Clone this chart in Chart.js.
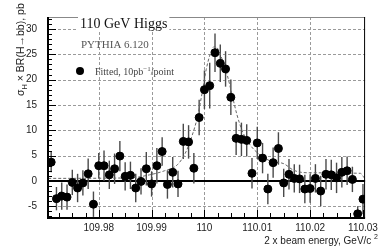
<!DOCTYPE html>
<html>
<head>
<meta charset="utf-8">
<script src="https://cdn.jsdelivr.net/npm/chart.js@4/dist/chart.umd.min.js"></script>
<style>
  html, body { margin: 0; padding: 0; background: #fff; }
</style>
</head>
<body>
<canvas id="higgsChart" width="382" height="252"></canvas>
<script>
// beam energy scan points (2 x beam energy, GeV/c^2)
const energies = [
  109.971, 109.972, 109.973, 109.974, 109.975, 109.976, 109.977, 109.978, 109.979, 109.980,
  109.981, 109.982, 109.983, 109.984, 109.985, 109.986, 109.987, 109.988, 109.989, 109.990,
  109.991, 109.992, 109.993, 109.994, 109.995, 109.996, 109.997, 109.998, 109.999, 110.000,
  110.001, 110.002, 110.003, 110.004, 110.005, 110.006, 110.007, 110.008, 110.009, 110.010,
  110.011, 110.012, 110.013, 110.014, 110.015, 110.016, 110.017, 110.018, 110.019, 110.020,
  110.021, 110.022, 110.023, 110.024, 110.025, 110.026, 110.027, 110.028, 110.029, 110.030
];
// fitted sigma x BR (pb)
const xsec = [
  3.7, -3.5, -3.0, -3.2, -0.3, -1.4, -0.4, 1.4, -4.6, 3.0,
  3.0, 1.2, 2.4, 4.9, 0.9, 1.1, -1.4, -0.1, 2.4, -0.6,
  3.0, 5.8, -0.7, 1.7, -0.6, 7.8, 7.7, 2.5, 12.5, 18.0,
  18.8, 25.3, 23.2, 22.1, 16.5, 8.4, 8.2, 8.0, 1.5, 7.5,
  4.5, -1.6, 3.6, 6.4, -0.4, 1.3, 0.5, 0.4, -1.6, -1.5,
  0.5, -2.0, 1.3, 1.2, 0.6, 1.7, 2.0, 0.3, -6.5, -3.6
];
const xsecErr = [
  2.0, 2.3, 2.7, 2.5, 2.5, 2.8, 2.5, 3.0, 2.5, 2.5,
  3.0, 2.8, 3.0, 3.0, 2.8, 2.7, 2.8, 2.6, 3.3, 2.5,
  3.5, 2.8, 2.8, 3.0, 2.6, 3.5, 3.3, 3.0, 3.5, 3.8,
  4.5, 3.8, 3.7, 3.5, 3.5, 3.3, 3.3, 3.2, 3.0, 3.2,
  3.0, 3.0, 3.0, 3.2, 2.8, 3.0, 2.8, 2.8, 2.8, 2.8,
  2.8, 3.0, 3.0, 3.0, 3.0, 3.0, 2.8, 2.5, 1.5, 3.0
];
// expected line shape (dashed)
const fitX = [
  109.97044, 109.98586, 109.98962, 109.99244, 109.99489, 109.99639, 109.99752, 109.99865,
  109.99959, 110.00034, 110.00109, 110.00184, 110.0026, 110.00335, 110.00429, 110.00523,
  110.00617, 110.00711, 110.00843, 110.01031, 110.01257, 110.01501, 110.01689, 110.01971,
  110.0295, 110.03025
];
const fitY = [
  0.5, 0.6, 1.2, 2.0, 3.2, 5.5, 8.5, 12.5,
  17.5, 22, 25, 26.5, 26, 24, 21, 17,
  13, 10, 7.4, 5.3, 3.9, 3.4, 2.1, 1.6,
  1.5, 0.6
];

const xTickValues = [109.98, 109.99, 110.00, 110.01, 110.02, 110.03];
const xTickLabels = ["109.98", "109.99", "110", "110.01", "110.02", "110.03"];
const yTickValues = [-5, 0, 5, 10, 15, 20, 25, 30];

const sansFont = "'Liberation Sans', Arial, sans-serif";
const serifFont = "'Liberation Serif', 'Times New Roman', serif";

// draws grid, zero line and error bars under the points
const underlay = {
  id: "underlay",
  beforeDatasetsDraw(chart) {
    const ctx = chart.ctx;
    const xs = chart.scales.x, ys = chart.scales.y;
    const a = chart.chartArea;
    ctx.save();
    ctx.strokeStyle = "#9a9a9a";
    ctx.lineWidth = 1;
    ctx.setLineDash([3, 2]);
    xTickValues.forEach(v => {
      const px = Math.round(xs.getPixelForValue(v)) + 0.5;
      if (px > a.right - 2) return;
      ctx.beginPath(); ctx.moveTo(px, a.top); ctx.lineTo(px, a.bottom); ctx.stroke();
    });
    yTickValues.forEach(v => {
      if (v === 0) return;
      const py = Math.round(ys.getPixelForValue(v)) + 0.5;
      ctx.beginPath(); ctx.moveTo(a.left, py); ctx.lineTo(a.right, py); ctx.stroke();
    });
    ctx.setLineDash([]);
    // zero line
    ctx.strokeStyle = "#000";
    ctx.lineWidth = 2;
    const y0 = ys.getPixelForValue(0);
    ctx.beginPath(); ctx.moveTo(a.left, y0); ctx.lineTo(a.right, y0); ctx.stroke();
    // error bars
    ctx.strokeStyle = "#4a4a4a";
    ctx.lineWidth = 1.4;
    energies.forEach((e, i) => {
      const px = xs.getPixelForValue(e);
      const lo = Math.min(ys.getPixelForValue(xsec[i] - xsecErr[i]), a.bottom);
      const hi = Math.max(ys.getPixelForValue(xsec[i] + xsecErr[i]), a.top);
      ctx.beginPath(); ctx.moveTo(px, lo); ctx.lineTo(px, hi); ctx.stroke();
    });
    ctx.restore();
  },
  afterDatasetsDraw(chart) {
    const ctx = chart.ctx;
    const xs = chart.scales.x, ys = chart.scales.y;
    const a = chart.chartArea;
    ctx.save();
    // frame
    ctx.strokeStyle = "#888";
    ctx.lineWidth = 1;
    ctx.beginPath(); ctx.moveTo(a.left, a.top + 0.5); ctx.lineTo(a.right, a.top + 0.5); ctx.stroke();
    ctx.strokeStyle = "#000";
    ctx.beginPath(); ctx.moveTo(a.right - 0.5, a.top); ctx.lineTo(a.right - 0.5, a.bottom); ctx.stroke();
    ctx.lineWidth = 2;
    ctx.beginPath(); ctx.moveTo(a.left, a.top); ctx.lineTo(a.left, a.bottom); ctx.lineTo(a.right, a.bottom); ctx.stroke();
    // inward ticks
    ctx.lineWidth = 1;
    for (let k = -7; k <= 32; k++) {
      const py = Math.round(ys.getPixelForValue(k)) + 0.5;
      const len = k % 5 === 0 ? 8 : 4;
      ctx.beginPath(); ctx.moveTo(a.left, py); ctx.lineTo(a.left + len, py); ctx.stroke();
    }
    for (let k = 1; k <= 24; k++) {
      const v = 109.97 + k * 0.0025;
      const px = Math.round(xs.getPixelForValue(v)) + 0.5;
      if (px < a.left + 1 || px > a.right - 1) continue;
      const len = k % 4 === 0 ? 8 : 5;
      ctx.beginPath(); ctx.moveTo(px, a.bottom); ctx.lineTo(px, a.bottom - len); ctx.stroke();
    }

    // title box
    ctx.font = "14px " + serifFont;
    ctx.textBaseline = "alphabetic";
    const tw = ctx.measureText("110 GeV Higgs").width;
    ctx.fillStyle = "#fff";
    ctx.fillRect(78, 15, tw + 4, 16);
    ctx.fillStyle = "#111";
    ctx.fillText("110 GeV Higgs", 80, 28);

    ctx.font = "11px " + serifFont;
    ctx.fillStyle = "#555";
    ctx.fillText("PYTHIA 6.120", 81, 48);

    // legend
    ctx.fillStyle = "#000";
    ctx.beginPath(); ctx.arc(80, 71, 4, 0, Math.PI * 2); ctx.fill();
    ctx.font = "10px " + serifFont;
    ctx.fillStyle = "#444";
    ctx.fillText("Fitted, 10pb", 95, 75);
    let lx = 95 + ctx.measureText("Fitted, 10pb").width;
    ctx.font = "7px " + serifFont;
    ctx.fillText("\u22121", lx, 71);
    lx += ctx.measureText("\u22121").width;
    ctx.font = "10px " + serifFont;
    ctx.fillText("/point", lx, 75);

    // x axis title
    ctx.font = "10px " + sansFont;
    ctx.fillStyle = "#222";
    const mainX = "2 x beam energy, GeV/c ";
    const wMain = ctx.measureText(mainX).width;
    ctx.font = "7px " + sansFont;
    const wSup = ctx.measureText("2").width;
    let sx = 378 - wMain - wSup;
    ctx.font = "10px " + sansFont;
    ctx.fillText(mainX, sx, 244);
    ctx.font = "7px " + sansFont;
    ctx.fillText("2", sx + wMain, 239);

    // y axis title (rotated)
    ctx.translate(24, 0);
    ctx.rotate(-Math.PI / 2);
    ctx.font = "10.5px " + sansFont;
    const p1 = "\u03c3";
    const p3 = " \u00d7 BR(H\u2192bb), pb";
    const w1 = ctx.measureText(p1).width;
    const w3 = ctx.measureText(p3).width;
    ctx.font = "7.5px " + sansFont;
    const w2 = ctx.measureText("H").width;
    let u = -96;
    ctx.font = "10.5px " + sansFont;
    ctx.fillText(p1, u, 0);
    ctx.font = "7.5px " + sansFont;
    ctx.fillText("H", u + w1, 2.5);
    ctx.font = "10.5px " + sansFont;
    ctx.fillText(p3, u + w1 + w2, 0);
    ctx.restore();
  }
};

const ctx = document.getElementById("higgsChart").getContext("2d");
const higgsChart = new Chart(ctx, {
  type: "scatter",
  data: {
    datasets: [
      {
        label: "Fitted",
        data: energies.map((e, i) => ({ x: e, y: xsec[i] })),
        backgroundColor: "#000",
        borderColor: "#000",
        pointRadius: 4,
        pointHoverRadius: 4,
        order: 1
      },
      {
        label: "Expected",
        data: fitX.map((e, i) => ({ x: e, y: fitY[i] })),
        showLine: true,
        borderColor: "#666",
        borderWidth: 1,
        borderDash: [3, 2],
        pointRadius: 0,
        cubicInterpolationMode: "monotone",
        order: 2
      }
    ]
  },
  options: {
    responsive: false,
    animation: false,
    devicePixelRatio: 1,
    layout: { padding: { top: 5, right: 15, left: 0, bottom: 0 } },
    plugins: { legend: { display: false }, tooltip: { enabled: false } },
    scales: {
      x: {
        type: "linear",
        min: 109.9704,
        max: 110.0304,
        grid: { display: false, drawTicks: false },
        border: { display: false },
        afterBuildTicks: s => { s.ticks = xTickValues.map(v => ({ value: v })); },
        afterFit: s => { s.height = 34; },
        ticks: {
          padding: 4,
          maxRotation: 0,
          color: "#222",
          font: { family: sansFont, size: 10 },
          callback: (v, i) => xTickLabels[i]
        }
      },
      y: {
        min: -7.32,
        max: 32.35,
        grid: { display: false, drawTicks: false },
        border: { display: false },
        afterBuildTicks: s => { s.ticks = yTickValues.map(v => ({ value: v })); },
        afterFit: s => { s.width = 48; },
        ticks: {
          padding: 11,
          color: "#222",
          font: { family: sansFont, size: 10 },
          callback: v => String(v)
        }
      }
    }
  },
  plugins: [underlay]
});
</script>
</body>
</html>
